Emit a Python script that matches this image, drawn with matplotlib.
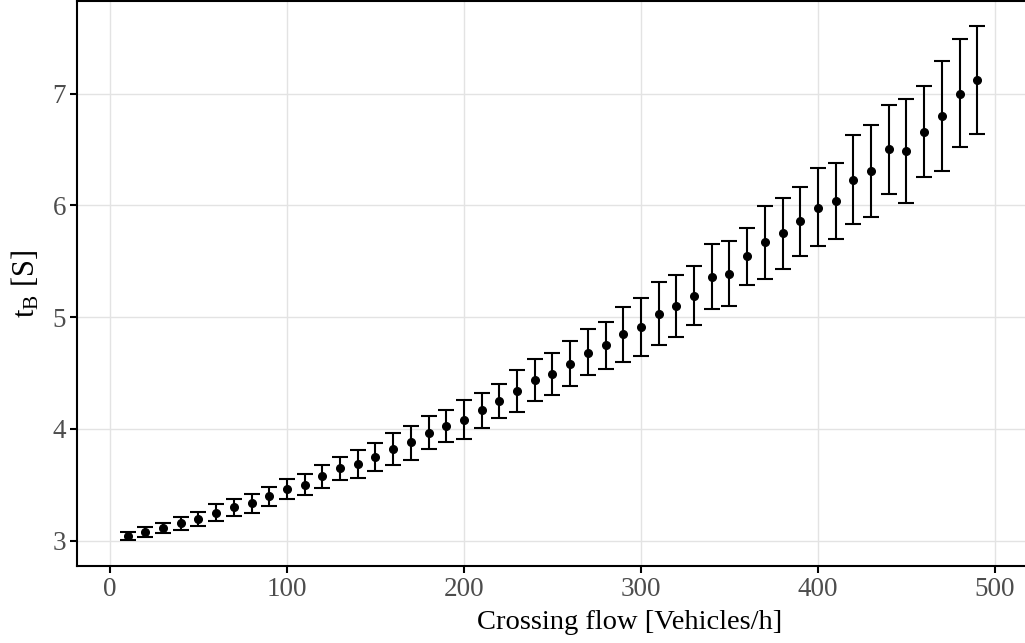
import matplotlib
matplotlib.use("Agg")
import matplotlib.pyplot as plt
import numpy as np

# ----------------- DATA -----------------
flow = [10, 20, 30, 40, 50, 60, 70, 80, 90, 100,
        110, 120, 130, 140, 150, 160, 170, 180, 190, 200,
        210, 220, 230, 240, 250, 260, 270, 280, 290, 300,
        310, 320, 330, 340, 350, 360, 370, 380, 390, 400,
        410, 420, 430, 440, 450, 460, 470, 480, 490]
tb_mean = [3.045, 3.078, 3.116, 3.16, 3.196, 3.25, 3.30, 3.34, 3.40, 3.46,
           3.50, 3.575, 3.65, 3.69, 3.745, 3.82, 3.88, 3.96, 4.03, 4.08,
           4.17, 4.25, 4.34, 4.44, 4.49, 4.58, 4.68, 4.75, 4.85, 4.91,
           5.03, 5.10, 5.19, 5.36, 5.39, 5.545, 5.67, 5.75, 5.86, 5.98,
           6.04, 6.23, 6.31, 6.50, 6.49, 6.66, 6.80, 7.00, 7.12]
tb_low = [3.006, 3.036, 3.066, 3.10, 3.13, 3.176, 3.22, 3.25, 3.31, 3.37,
          3.405, 3.47, 3.54, 3.56, 3.62, 3.68, 3.72, 3.82, 3.88, 3.91,
          4.01, 4.10, 4.15, 4.25, 4.30, 4.38, 4.48, 4.54, 4.60, 4.65,
          4.75, 4.82, 4.93, 5.07, 5.10, 5.29, 5.34, 5.43, 5.55, 5.64,
          5.70, 5.83, 5.90, 6.10, 6.02, 6.25, 6.31, 6.52, 6.64]
tb_high = [3.08, 3.12, 3.16, 3.21, 3.26, 3.325, 3.37, 3.42, 3.485, 3.55,
           3.60, 3.68, 3.75, 3.81, 3.87, 3.96, 4.03, 4.12, 4.17, 4.26,
           4.32, 4.40, 4.53, 4.63, 4.68, 4.79, 4.89, 4.96, 5.09, 5.17,
           5.31, 5.38, 5.46, 5.65, 5.68, 5.80, 5.99, 6.07, 6.16, 6.33,
           6.38, 6.63, 6.72, 6.90, 6.95, 7.07, 7.29, 7.49, 7.60]

x_ticks = [0, 100, 200, 300, 400, 500]
y_ticks = [3, 4, 5, 6, 7]

# ----------------- STYLE -----------------
plt.rcParams['font.family'] = ['Liberation Serif', 'DejaVu Serif']
plt.rcParams['mathtext.fontset'] = 'custom'
plt.rcParams['mathtext.rm'] = 'Liberation Serif'
plt.rcParams['mathtext.it'] = 'Liberation Serif:italic'

W, H = 1025, 643
fig = plt.figure(figsize=(W / 100, H / 100), dpi=100)
left_px, bottom_px, top_px = 77, 566, 1
ax = fig.add_axes([left_px / W, (H - bottom_px) / H,
                   (W - left_px) / W, (bottom_px - top_px) / H])

mean = np.array(tb_mean)
err = [mean - np.array(tb_low), np.array(tb_high) - mean]
ax.errorbar(flow, mean, yerr=err, fmt='o', color='black', ms=5.5,
            capsize=5.8, elinewidth=1.5, capthick=1.5, zorder=3)

ax.set_xlim(-18.6, 517)
ax.set_ylim(2.774, 7.828)
ax.set_xticks(x_ticks)
ax.set_yticks(y_ticks)

ax.grid(True, color='#e3e3e3', linewidth=1.0)
ax.set_axisbelow(True)

for s in ['left', 'bottom', 'top']:
    ax.spines[s].set_linewidth(1.5)
    ax.spines[s].set_color('black')
ax.spines['right'].set_visible(False)

ax.tick_params(axis='both', direction='out', length=5, width=1.5,
               color='black', labelcolor='#4d4d4d', labelsize=19.5, pad=3)

ax.set_xlabel("Crossing flow [Vehicles/h]", fontsize=20.5, color='black')
ax.xaxis.set_label_coords((630 - left_px) / (W - left_px), -0.077)
ax.set_ylabel(r"$\mathrm{t_B}$ [S]", fontsize=22, color='black', labelpad=8)

fig.savefig("out.png", dpi=100)
